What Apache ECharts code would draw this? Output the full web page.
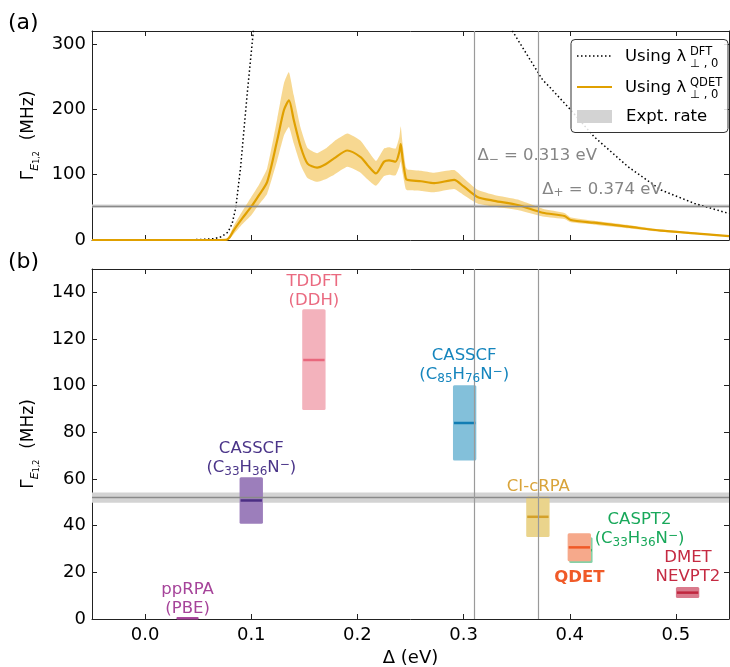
<!DOCTYPE html>
<html><head><meta charset="utf-8">
<script src="https://cdn.jsdelivr.net/npm/echarts@6/dist/echarts.min.js"></script>
<style>html,body{margin:0;padding:0;background:#fff}#c{width:730px;height:667px}</style>
</head><body><div id="c"></div>
<script>
// ---------- data ----------
// Panel (a): QDET-based rate with uncertainty band
const deltaQ = [-0.05, 0.0, 0.07, 0.077, 0.08, 0.0836, 0.0915, 0.1, 0.107, 0.115, 0.1245, 0.1308, 0.1355, 0.14, 0.1465, 0.153, 0.162, 0.17, 0.178, 0.1906, 0.203, 0.2094, 0.2175, 0.2251, 0.2298, 0.236, 0.2395, 0.2408, 0.2425, 0.2455, 0.2471, 0.26, 0.2723, 0.2911, 0.3, 0.313, 0.329, 0.351, 0.3745, 0.395, 0.401, 0.423, 0.455, 0.486, 0.5176, 0.55];
const rateQ  = [0, 0, 0, 0.5, 5, 15, 33, 51, 68, 89, 153, 199, 214, 184, 143, 117, 110.7, 116, 125, 137, 127, 115, 102, 120, 122, 120, 135, 147, 125, 95, 92, 90, 87, 92, 82, 66, 60, 53.6, 41.8, 36.7, 30.6, 26.5, 20.4, 14.3, 10.2, 6];
const lowQ   = [0, 0, 0, 0, 2, 9, 24, 38, 54, 71, 122, 160, 173, 148, 115, 95, 89, 93, 100, 112, 103, 93, 83, 98, 100, 99, 112, 120, 103, 78, 76, 75, 73, 78, 69, 56, 51, 46, 36, 32, 27, 23.5, 18, 12.5, 9, 5.3];
const highQ  = [0, 0, 0, 1, 9, 22, 44, 66, 84, 110, 186, 240, 257, 222, 172, 141, 133, 140, 151, 163, 152, 138, 121, 140, 142, 140, 158, 174, 148, 112, 108, 106, 103, 107, 95, 77, 69, 62, 48, 41.5, 34.5, 29.5, 23, 16, 11.5, 6.8];
// Panel (a): DFT-based rate (goes off-scale between the two branches)
const deltaDFT = [-0.05, 0.04, 0.055, 0.065, 0.072, 0.078, 0.082, 0.0855, 0.09, 0.0962, 0.102, 0.106, 0.2, 0.34, 0.346, 0.36, 0.3745, 0.38, 0.401, 0.423, 0.455, 0.486, 0.5175, 0.549, 0.55];
const rateDFT  = [0, 0.2, 1, 2, 5, 12, 25, 50, 112, 224, 320, 390, null, 336, 320, 283, 245, 236, 199, 158, 112, 76.5, 56, 41, 40.5];
// Experimental rate
const exptRate = 52, exptLow = 49.8, exptHigh = 54.2;
// Delta markers
const deltaMinus = 0.313, deltaPlus = 0.374;
// Panel (b): methods
const methodNames = ['ppRPA', 'CASSCF33', 'TDDFT', 'CASSCF85', 'CIcRPA', 'CASPT2', 'QDET', 'DMET'];
const methodLabels = [
  '{n|ppRPA}\n{n|(PBE)}',
  '{n|CASSCF}\n{n|(C}{s|33}{n|H}{s|36}{n|N}{p|−}{n|)}',
  '{n|TDDFT}\n{n|(DDH)}',
  '{n|CASSCF}\n{n|(C}{s|85}{n|H}{s|76}{n|N}{p|−}{n|)}',
  '{n|CI-cRPA}',
  '{n|CASPT2}\n{n|(C}{s|33}{n|H}{s|36}{n|N}{p|−}{n|)}',
  '{b|QDET}',
  '{n|DMET}\n{n|NEVPT2}'
];
const methodDelta = [0.04, 0.1, 0.159, 0.301, 0.37, 0.4105, 0.409, 0.511];
const methodRate  = [0.3, 50.8, 111, 84, 43.8, 29.5, 30.7, 11.3];
const methodLow   = [0, 40.8, 89.6, 67.9, 35.1, 24, 24.7, 9];
const methodHigh  = [0.6, 60.8, 132.7, 100.2, 52.5, 35, 36.8, 13.7];
// Tick labels
const xTicks = [0, 0.1, 0.2, 0.3, 0.4, 0.5];
const yTicksA = [0, 100, 200, 300];
const yTicksB = [0, 20, 40, 60, 80, 100, 120, 140];

// ---------- styles / layout ----------
const lineColors = ['#A6449A', '#4B2E83', '#E8687D', '#127DB3', '#D4A12A', '#10A050', '#F05A28', '#C0273F'];
const boxColors  = ['#D3A1CC', '#9C7EBB', '#F3B2BC', '#83C0DA', '#EAD48C', '#86D0A6', '#F6A98B', '#D97A8C'];
const labelColors = ['#A6449A', '#4B3589', '#EA6A80', '#1585BD', '#D9A43A', '#18A85A', '#F05A28', '#C52A42'];
const labelAnchor = [[0.04, 8.3], [0.1, 68.8], [0.159, 140.5], [0.3006, 108.6], [0.3704, 56.8], [0.4657, 38.4], [0.409, 17.6], [0.5113, 22]];
const boxHalf = 0.011;
const FONT = 'DejaVu Sans';
const ORANGE = '#E0A000';

const chart = echarts.init(document.getElementById('c'), null, {renderer: 'canvas'});

function xAxisDef(grid, pos, labels) {
  return {
    type: 'value', gridIndex: grid, position: pos, min: -0.05, max: 0.55,
    axisLine: {show: true, onZero: false, lineStyle: {color: '#222', width: 1}},
    axisTick: {show: true, inside: true, length: 5, customValues: xTicks, lineStyle: {color: '#222'}},
    axisLabel: {show: labels, customValues: xTicks, margin: 7, fontSize: 18, color: '#000', fontFamily: FONT,
      formatter: v => v.toFixed(1)},
    splitLine: {show: false}
  };
}
function yAxisDef(grid, pos, max, ticks, labels) {
  const ax = {
    type: 'value', gridIndex: grid, position: pos, min: 0, max: max,
    axisLine: {show: true, onZero: false, lineStyle: {color: '#222', width: 1}},
    axisTick: {show: true, inside: true, length: 5, customValues: ticks, lineStyle: {color: '#222'}},
    axisLabel: {show: labels, customValues: ticks, margin: 6, fontSize: 18, color: '#000', fontFamily: FONT},
    splitLine: {show: false}
  };
  if (labels) {
    ax.name = '{g|Γ}{e|E}{s|1,2}{g|  (MHz)}';
    ax.nameLocation = 'middle';
    ax.nameGap = 50;
    ax.nameRotate = 90;
    ax.nameTextStyle = {rich: {
      g: {fontSize: 17, lineHeight: 24, color: '#000', fontFamily: FONT},
      e: {fontSize: 11, fontStyle: 'italic', lineHeight: 12, verticalAlign: 'bottom', color: '#000', fontFamily: FONT},
      s: {fontSize: 8, lineHeight: 8, verticalAlign: 'bottom', color: '#000', fontFamily: FONT}
    }};
  }
  return ax;
}

const xAxes = [xAxisDef(0, 'bottom', false), xAxisDef(0, 'top', false), xAxisDef(1, 'bottom', true), xAxisDef(1, 'top', false)];
xAxes[2].name = 'Δ (eV)';
xAxes[2].nameLocation = 'middle';
xAxes[2].nameGap = 30;
xAxes[2].nameTextStyle = {fontSize: 18, color: '#000', fontFamily: FONT};

const yAxes = [yAxisDef(0, 'left', 320, yTicksA, true), yAxisDef(0, 'right', 320, yTicksA, false),
               yAxisDef(1, 'left', 150, yTicksB, true), yAxisDef(1, 'right', 150, yTicksB, false)];

function exptSeries(xi, yi) {
  return {
    type: 'line', xAxisIndex: xi, yAxisIndex: yi, data: [], z: 1, silent: true,
    markArea: {silent: true, itemStyle: {color: '#d3d3d3'}, data: [[{yAxis: exptLow}, {yAxis: exptHigh}]]},
    markLine: {silent: true, symbol: 'none', label: {show: false}, lineStyle: {color: '#8a8a8a', width: 1.3, type: 'solid'},
      data: [{yAxis: exptRate}]}
  };
}
function vlineSeries(xi, yi) {
  return {
    type: 'line', xAxisIndex: xi, yAxisIndex: yi, data: [], z: 6, silent: true,
    markLine: {silent: true, symbol: 'none', label: {show: false}, lineStyle: {color: '#9a9a9a', width: 1.2, type: 'solid'},
      data: [{xAxis: deltaMinus}, {xAxis: deltaPlus}]}
  };
}

function richSet(color, size) {
  return {
    n: {fontSize: size, lineHeight: 19, color: color, fontFamily: FONT},
    b: {fontSize: size, lineHeight: 19, color: color, fontFamily: FONT, fontWeight: 'bold'},
    s: {fontSize: 12, lineHeight: 9, verticalAlign: 'bottom', color: color, fontFamily: FONT},
    p: {fontSize: 12, lineHeight: 9, verticalAlign: 'top', color: color, fontFamily: FONT}
  };
}

const series = [
  exptSeries(0, 0),
  {
    type: 'custom', xAxisIndex: 0, yAxisIndex: 0, z: 2, silent: true, data: [[0, 0]],
    renderItem: (params, api) => {
      const pts = [];
      for (let i = 0; i < deltaQ.length; i++) pts.push(api.coord([deltaQ[i], highQ[i]]));
      for (let i = deltaQ.length - 1; i >= 0; i--) pts.push(api.coord([deltaQ[i], lowQ[i]]));
      return {type: 'polygon', shape: {points: pts, smooth: 0.15}, style: {fill: 'rgba(238,168,10,0.45)'}};
    }
  },
  {
    type: 'line', xAxisIndex: 0, yAxisIndex: 0, z: 4, showSymbol: false, silent: true, smooth: 0.25,
    data: deltaQ.map((d, i) => [d, rateQ[i]]),
    lineStyle: {color: ORANGE, width: 2.2}
  },
  {
    type: 'line', xAxisIndex: 0, yAxisIndex: 0, z: 3, showSymbol: false, silent: true, connectNulls: false,
    data: deltaDFT.map((d, i) => [d, rateDFT[i]]),
    lineStyle: {color: '#000', width: 1.5, type: [1.5, 2.5]}
  },
  vlineSeries(0, 0),
  {
    type: 'scatter', xAxisIndex: 0, yAxisIndex: 0, z: 7, symbolSize: 0, silent: true,
    itemStyle: {opacity: 1},
    data: [
      {value: [deltaMinus, 128.6], label: {formatter: '{n|Δ}{s|−}{n| = 0.313 eV}'}},
      {value: [deltaPlus, 77.6], label: {formatter: '{n|Δ}{s|+}{n| = 0.374 eV}'}}
    ],
    label: {show: true, position: 'right', distance: 0, opacity: 1, rich: richSet('#858585', 16.5)}
  },
  exptSeries(2, 2),
  {
    type: 'custom', xAxisIndex: 2, yAxisIndex: 2, z: 3, silent: true,
    data: methodNames.map((n, i) => [methodDelta[i], methodRate[i], methodLow[i], methodHigh[i], i]),
    renderItem: (params, api) => {
      const i = api.value(4), x = api.value(0);
      const p1 = api.coord([x - boxHalf, api.value(3)]);
      const p2 = api.coord([x + boxHalf, api.value(2)]);
      const m1 = api.coord([x - boxHalf, api.value(1)]);
      const m2 = api.coord([x + boxHalf, api.value(1)]);
      return {type: 'group', children: [
        {type: 'rect', shape: {x: p1[0], y: p1[1], width: p2[0] - p1[0], height: Math.max(p2[1] - p1[1], 0), r: 1.5},
          style: {fill: boxColors[i]}},
        {type: 'line', shape: {x1: m1[0] + 1, y1: m1[1], x2: m2[0] - 1, y2: m2[1]},
          style: {stroke: lineColors[i], lineWidth: 2.5}}
      ]};
    }
  },
  vlineSeries(2, 2),
  {
    type: 'scatter', xAxisIndex: 2, yAxisIndex: 2, z: 7, symbolSize: 0, silent: true,
    itemStyle: {opacity: 1},
    data: methodNames.map((n, i) => ({
      value: labelAnchor[i],
      label: {formatter: methodLabels[i], rich: richSet(labelColors[i], 16.5)}
    })),
    label: {show: true, position: 'inside', opacity: 1, align: 'center'}
  }
];

// legend drawn as graphic elements (matplotlib-style with stacked super/subscripts)
const lg = {x: 571, y: 39.5, w: 157, h: 93};
const graphic = [
  {type: 'text', left: 8, top: 12, style: {text: '(a)', fontSize: 22, fill: '#000', fontFamily: FONT}},
  {type: 'text', left: 8, top: 251, style: {text: '(b)', fontSize: 22, fill: '#000', fontFamily: FONT}},
  {type: 'rect', shape: {x: lg.x, y: lg.y, width: lg.w, height: lg.h, r: 4}, z: 20,
    style: {fill: 'rgba(255,255,255,0.85)', stroke: '#333', lineWidth: 1}},
  {type: 'line', z: 21, shape: {x1: 577, y1: 56, x2: 612, y2: 56}, style: {stroke: '#000', lineWidth: 1.5, lineDash: [1.5, 2.5]}},
  {type: 'line', z: 21, shape: {x1: 577, y1: 87, x2: 612, y2: 87}, style: {stroke: ORANGE, lineWidth: 2.2}},
  {type: 'rect', z: 21, shape: {x: 577, y: 110, width: 35, height: 13}, style: {fill: '#d3d3d3'}},
  {type: 'text', z: 21, x: 625, y: 57, style: {text: 'Using λ', fontSize: 16.5, fill: '#000', fontFamily: FONT, verticalAlign: 'middle'}},
  {type: 'text', z: 21, x: 690, y: 52, style: {text: 'DFT', fontSize: 11.5, fill: '#000', fontFamily: FONT, verticalAlign: 'middle'}},
  {type: 'text', z: 21, x: 690, y: 64, style: {text: '⊥ , 0', fontSize: 11.5, fill: '#000', fontFamily: FONT, verticalAlign: 'middle'}},
  {type: 'text', z: 21, x: 625, y: 88, style: {text: 'Using λ', fontSize: 16.5, fill: '#000', fontFamily: FONT, verticalAlign: 'middle'}},
  {type: 'text', z: 21, x: 690, y: 83, style: {text: 'QDET', fontSize: 11.5, fill: '#000', fontFamily: FONT, verticalAlign: 'middle'}},
  {type: 'text', z: 21, x: 690, y: 95, style: {text: '⊥ , 0', fontSize: 11.5, fill: '#000', fontFamily: FONT, verticalAlign: 'middle'}},
  {type: 'text', z: 21, x: 626, y: 117, style: {text: 'Expt. rate', fontSize: 16.5, fill: '#000', fontFamily: FONT, verticalAlign: 'middle'}}
];

chart.setOption({
  animation: false,
  backgroundColor: '#fff',
  textStyle: {fontFamily: FONT},
  grid: [
    {left: 92, right: 1, top: 31, height: 209, outerBoundsMode: 'none'},
    {left: 92, right: 1, top: 269, height: 350, outerBoundsMode: 'none'}
  ],
  xAxis: xAxes,
  yAxis: yAxes,
  series: series,
  graphic: graphic
});
</script>
</body></html>
